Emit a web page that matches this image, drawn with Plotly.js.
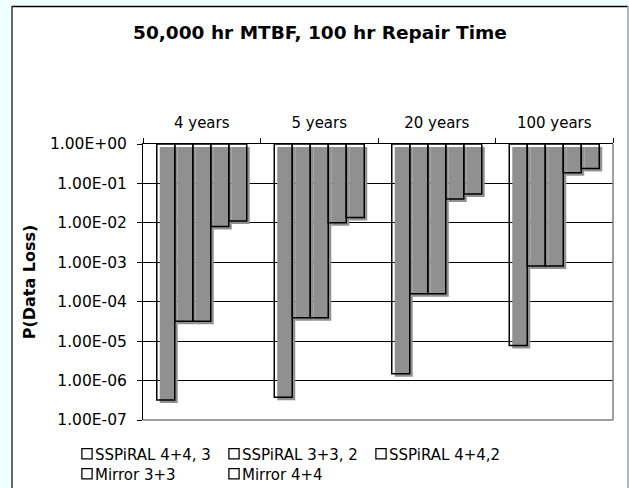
<!DOCTYPE html>
<html><head><meta charset="utf-8">
<script src="https://cdn.plot.ly/plotly-3.0.1.min.js"></script>
<style>
html,body{margin:0;padding:0;background:#F0FFFF;}
#chart{width:629px;height:488px;}
#chart .barlayer > g.trace:nth-child(-n+5){transform:translate(3px,3px);}
#chart g.legendpoints{transform:translate(15px,0) scale(0.85);}
#chart path.legendbar{stroke:#404040 !important;stroke-width:1.2px !important;fill:#fff !important;}
</style></head><body><div id="chart"></div>
<script>
const categories = ['4 years', '5 years', '20 years', '100 years'];
const seriesNames = ['SSPiRAL 4+4, 3', 'SSPiRAL 3+3, 2', 'SSPiRAL 4+4,2', 'Mirror 3+3', 'Mirror 4+4'];
const sspiral443 = [3.2e-7, 3.8e-7, 1.5e-6, 7.7e-6];
const sspiral332 = [3.2e-5, 3.9e-5, 1.6e-4, 8.1e-4];
const sspiral442 = [3.2e-5, 3.9e-5, 1.6e-4, 8.1e-4];
const mirror33 = [8.1e-3, 1.0e-2, 4.0e-2, 1.87e-1];
const mirror44 = [1.12e-2, 1.36e-2, 5.4e-2, 2.4e-1];
const topValue = 1;
const yTickVals = [1, 1e-1, 1e-2, 1e-3, 1e-4, 1e-5, 1e-6, 1e-7];
const yTickText = ['1.00E+00', '1.00E-01', '1.00E-02', '1.00E-03', '1.00E-04', '1.00E-05', '1.00E-06', '1.00E-07'];

const seriesValues = [sspiral443, sspiral332, sspiral442, mirror33, mirror44];
const FONT = "'DejaVu Sans', Verdana, sans-serif";
const legendIds = ['legend', 'legend2', 'legend3', 'legend4', 'legend5'];
const legendTextX = [95, 242, 389, 95, 242];
const legendRowY = [454, 454, 454, 474, 474];

const shadows = seriesValues.map((vals, i) => ({
  type: 'bar', x: categories, base: vals, y: vals.map(v => topValue - v),
  offsetgroup: 'g' + i, marker: {color: '#909090', line: {width: 0}},
  showlegend: false, hoverinfo: 'skip'
}));
const outlines = seriesValues.map((vals, i) => ({
  type: 'bar', name: seriesNames[i], x: categories, base: vals, y: vals.map(v => topValue - v),
  offsetgroup: 'g' + i, marker: {color: 'rgba(0,0,0,0)', line: {color: '#000', width: 1.5}},
  legend: legendIds[i]
}));

function px(x) { return (x - 143) / 470; }
function py(y) { return (420 - y) / 276; }

const layout = {
  width: 629, height: 488,
  paper_bgcolor: '#F0FFFF', plot_bgcolor: '#fff',
  margin: {l: 143, r: 16, t: 144, b: 68},
  font: {family: FONT, size: 15, color: '#000'},
  title: {text: '50,000 hr MTBF, 100 hr Repair Time', font: {family: FONT, size: 18.5, weight: 'bold', color: '#000'},
          xref: 'container', yref: 'container', x: 320 / 629, xanchor: 'center', y: 1 - 33 / 488, yanchor: 'middle'},
  barmode: 'group', bargap: 0.234, bargroupgap: 0,
  xaxis: {type: 'category', side: 'top', ticks: 'outside', tickson: 'boundaries', ticklen: 5, tickcolor: '#000',
          showline: true, linecolor: '#000', linewidth: 1, showgrid: false, tickfont: {family: FONT, size: 15}, ticklabelstandoff: 9},
  yaxis: {type: 'log', range: [-7, 0], tickvals: yTickVals, ticktext: yTickText, ticks: 'outside', ticklen: 5,
          tickcolor: '#000', showline: true, linecolor: '#000', linewidth: 1, showgrid: true, gridcolor: '#000',
          gridwidth: 1, zeroline: false, tickfont: {family: FONT, size: 15.5}, ticklabelstandoff: 7,
          title: {text: 'P(Data Loss)', font: {family: FONT, size: 16, weight: 'bold', color: '#000'}, standoff: 10}},
  shapes: [
    {type: 'rect', xref: 'paper', yref: 'paper', x0: px(12), x1: px(628), y0: py(500), y1: py(6), fillcolor: '#fff', line: {width: 0}, layer: 'below'},
    {type: 'line', xref: 'paper', yref: 'paper', x0: px(12), x1: px(628), y0: py(6.5), y1: py(6.5), line: {color: '#000', width: 1.5}, layer: 'below'},
    {type: 'line', xref: 'paper', yref: 'paper', x0: px(12), x1: px(12), y0: py(500), y1: py(6), line: {color: '#333', width: 1.5}, layer: 'below'},
    {type: 'line', xref: 'paper', yref: 'paper', x0: px(628), x1: px(628), y0: py(500), y1: py(6), line: {color: '#a0a0a0', width: 1.5}, layer: 'below'},
    {type: 'line', xref: 'paper', yref: 'paper', x0: 1, x1: 1, y0: 0, y1: 1, line: {color: '#808080', width: 1.5}, layer: 'above'},
    {type: 'line', xref: 'paper', yref: 'paper', x0: 0, x1: 1, y0: 0, y1: 0, line: {color: '#808080', width: 1.5}, layer: 'above'}
  ]
};
legendIds.forEach((id, i) => {
  layout[id] = {
    orientation: 'h', xref: 'container', yref: 'container', xanchor: 'left', yanchor: 'middle',
    x: (legendTextX[i] - 40) / 629, y: 1 - legendRowY[i] / 488, bgcolor: 'rgba(0,0,0,0)', borderwidth: 0,
    font: {family: FONT, size: 15, color: '#000'}, itemclick: false, itemdoubleclick: false
  };
});

Plotly.newPlot('chart', shadows.concat(outlines), layout, {displayModeBar: false, staticPlot: true});
</script></body></html>
